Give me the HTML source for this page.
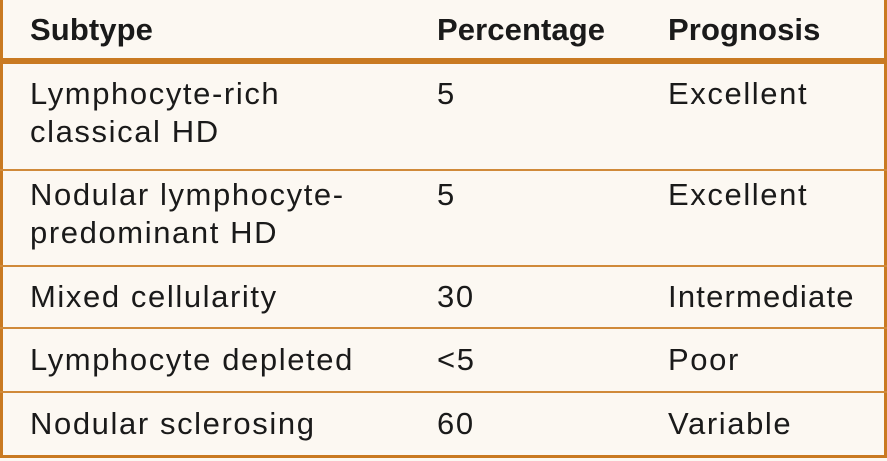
<!DOCTYPE html>
<html><head><meta charset="utf-8"><style>
html,body{margin:0;padding:0;}
body{width:887px;height:461px;background:#fcf8f2;position:relative;overflow:hidden;font-family:"Liberation Sans",sans-serif;color:#1a1a1a;}
.frame{position:absolute;left:0;top:0;width:881px;height:455px;border-left:3px solid #c97a22;border-right:3px solid #c97a22;border-bottom:3px solid #c97a22;}
.hl{position:absolute;left:0;width:887px;background:#d08a3a;}
.t{position:absolute;font-size:31px;line-height:38px;white-space:nowrap;letter-spacing:1.6px;}
.h{font-weight:bold;top:11px;letter-spacing:0.1px;}
</style></head><body>
<div class="frame"></div>
<div class="hl" style="top:58px;height:6px;background:#c97a22"></div>
<div class="hl" style="top:169px;height:2px"></div>
<div class="hl" style="top:265px;height:2px"></div>
<div class="hl" style="top:327px;height:2px"></div>
<div class="hl" style="top:391px;height:2px"></div>

<div class="t h" style="left:30px">Subtype</div>
<div class="t h" style="left:437px">Percentage</div>
<div class="t h" style="left:668px">Prognosis</div>

<div class="t" style="left:30px;top:75px">Lymphocyte-rich<br>classical HD</div>
<div class="t" style="left:437px;top:75px">5</div>
<div class="t" style="left:668px;top:75px">Excellent</div>

<div class="t" style="left:30px;top:176px">Nodular lymphocyte-<br>predominant HD</div>
<div class="t" style="left:437px;top:176px">5</div>
<div class="t" style="left:668px;top:176px">Excellent</div>

<div class="t" style="left:30px;top:278px">Mixed cellularity</div>
<div class="t" style="left:437px;top:278px">30</div>
<div class="t" style="left:668px;top:278px;letter-spacing:1.2px">Intermediate</div>

<div class="t" style="left:30px;top:341px">Lymphocyte depleted</div>
<div class="t" style="left:437px;top:341px">&lt;5</div>
<div class="t" style="left:668px;top:341px">Poor</div>

<div class="t" style="left:30px;top:405px">Nodular sclerosing</div>
<div class="t" style="left:437px;top:405px">60</div>
<div class="t" style="left:668px;top:405px">Variable</div>
</body></html>
